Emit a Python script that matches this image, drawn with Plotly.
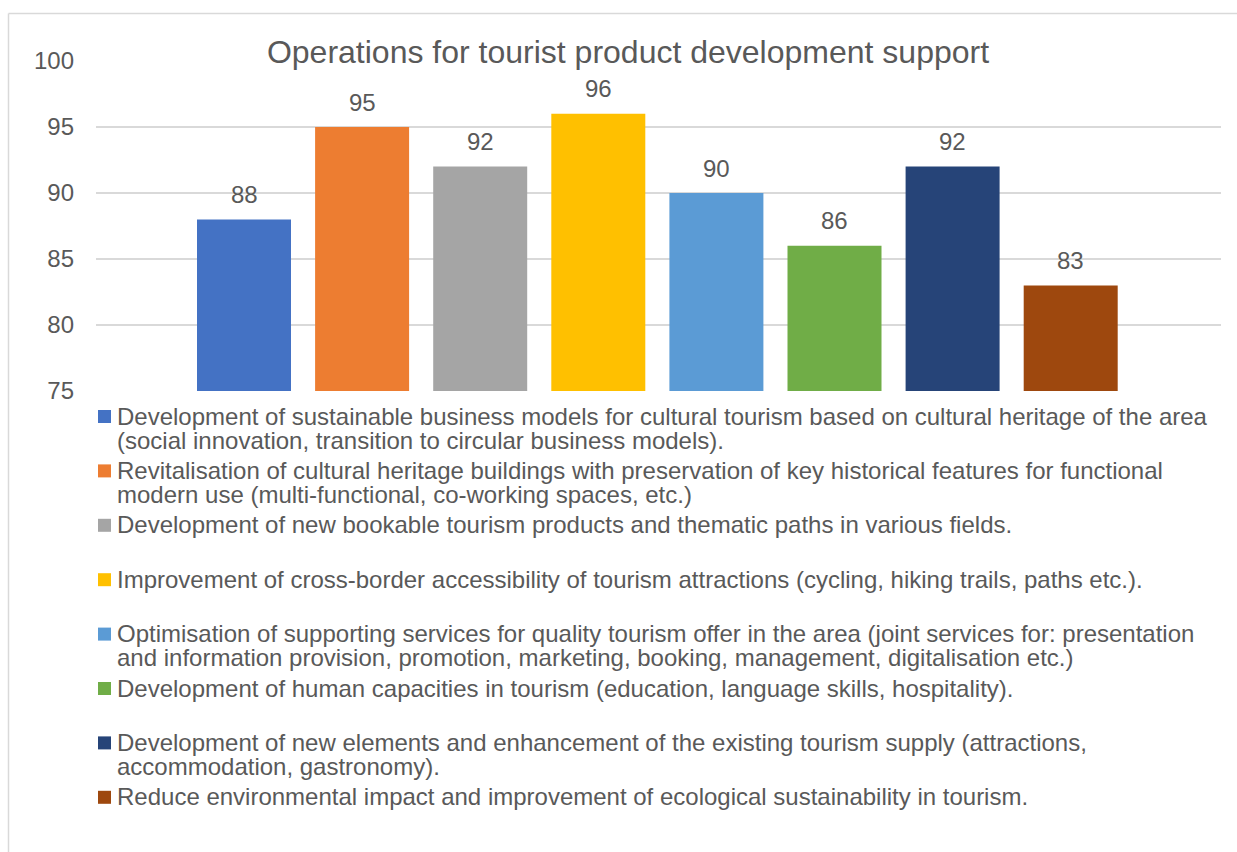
import plotly.graph_objects as go

# Survey scores per operation ("\n" marks where a label wraps in the key)
categories = [
    "Development of sustainable business models for cultural tourism based on cultural heritage of the area\n(social innovation, transition to circular business models).",
    "Revitalisation of cultural heritage buildings with preservation of key historical features for functional\nmodern use (multi-functional, co-working spaces, etc.)",
    "Development of new bookable tourism products and thematic paths in various fields.",
    "Improvement of cross-border accessibility of tourism attractions (cycling, hiking trails, paths etc.).",
    "Optimisation of supporting services for quality tourism offer in the area (joint services for: presentation\nand information provision, promotion, marketing, booking, management, digitalisation etc.)",
    "Development of human capacities in tourism (education, language skills, hospitality).",
    "Development of new elements and enhancement of the existing tourism supply (attractions,\naccommodation, gastronomy).",
    "Reduce environmental impact and improvement of ecological sustainability in tourism.",
]
values = [88, 95, 92, 96, 90, 86, 92, 83]
colors = ["#4472C4", "#ED7D31", "#A5A5A5", "#FFC000", "#5B9BD5", "#70AD47", "#264478", "#9E480E"]

TXT = "#595959"
GRID = "#D9D9D9"
FONT = "Liberation Sans, Arial, sans-serif"
FS = 24

# Plot area in pixels: left 96, right 1221, top 61, bottom 391
L, R, T, B = 96, 1221, 61, 391
W, H = 1237, 852
pw, ph = R - L, B - T


def px_x(x):
    return (x - L) / pw


def px_y(y):
    return (B - y) / ph


fig = go.Figure()
for i, (name, v, c) in enumerate(zip(categories, values, colors)):
    fig.add_trace(go.Bar(
        x=[i], y=[v], name=name.replace("\n", " "), width=0.796,
        marker=dict(color=c, line=dict(width=0)),
        hovertemplate="%{y}<extra></extra>",
    ))
    fig.add_annotation(
        x=i, y=v, text=str(v), showarrow=False, yshift=25,
        font=dict(family=FONT, size=FS, color=TXT),
    )

# Key below the plot: colour square + wrapped label lines (tight 24px leading)
ITEM_STEP, LINE_STEP = 54.4, 24
for k, (name, c) in enumerate(zip(categories, colors)):
    top = 410 + ITEM_STEP * k
    fig.add_shape(type="rect", xref="paper", yref="paper",
                  x0=px_x(98), x1=px_x(111), y0=px_y(top), y1=px_y(top + 13),
                  fillcolor=c, line=dict(width=0))
    for j, line in enumerate(name.split("\n")):
        fig.add_annotation(
            xref="paper", yref="paper", x=px_x(115), xanchor="left",
            y=px_y(top + 6 + LINE_STEP * j), yanchor="middle",
            text=line, showarrow=False, align="left",
            font=dict(family=FONT, size=FS, color=TXT),
        )

# chart-area border (top and left edges)
fig.add_shape(type="line", xref="paper", yref="paper",
              x0=px_x(8.5), x1=px_x(1240), y0=px_y(13.5), y1=px_y(13.5),
              line=dict(color=GRID, width=1.5))
fig.add_shape(type="line", xref="paper", yref="paper",
              x0=px_x(8.5), x1=px_x(8.5), y0=px_y(13.5), y1=px_y(860),
              line=dict(color=GRID, width=1.5))

fig.update_layout(
    width=W, height=H,
    margin=dict(l=L, r=W - R, t=T, b=H - B),
    paper_bgcolor="white", plot_bgcolor="white",
    barmode="overlay",
    showlegend=False,
    title=dict(
        text="Operations for tourist product development support",
        x=628 / W, xanchor="center", xref="container",
        y=1 - 52 / H, yanchor="middle", yref="container",
        font=dict(family=FONT, size=32, color=TXT),
    ),
    xaxis=dict(range=[(L - 244) / 118.1, (R - 244) / 118.1],
               showticklabels=False, showgrid=False, zeroline=False,
               showline=False, ticks=""),
    yaxis=dict(range=[75, 100], dtick=5, tick0=75, showgrid=True,
               gridcolor=GRID, gridwidth=1.5, zeroline=False, showline=False,
               ticks="", ticklabelstandoff=21,
               tickfont=dict(family=FONT, size=FS, color=TXT)),
    font=dict(family=FONT, color=TXT),
)

fig.write_html("out.html")
